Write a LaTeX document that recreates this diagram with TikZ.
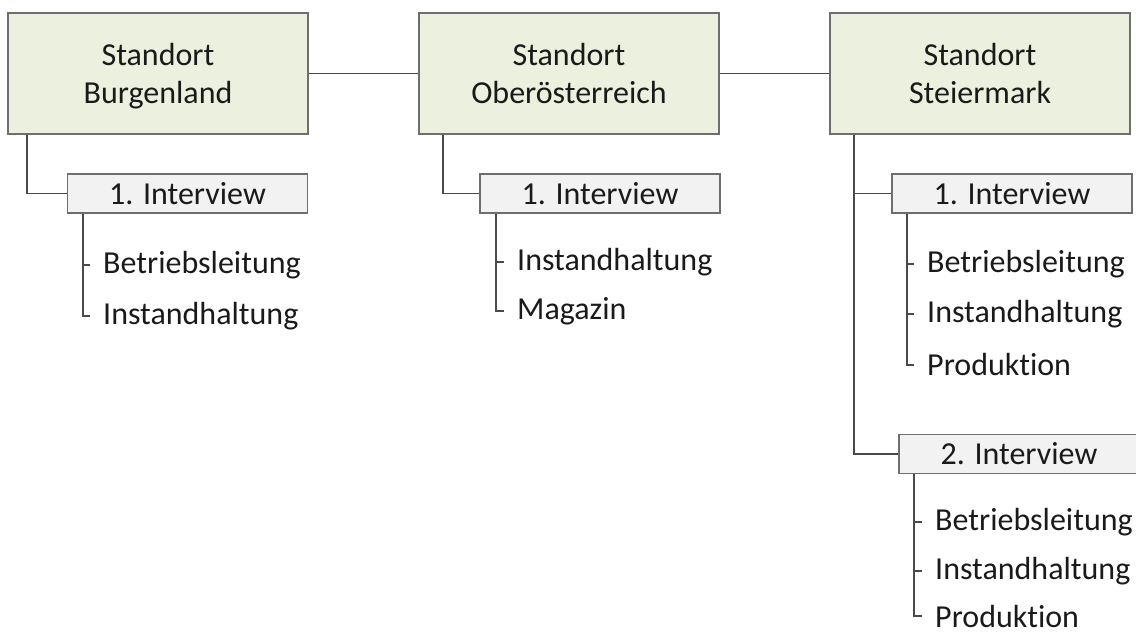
\documentclass[tikz,border=0pt]{standalone}
\usepackage{fontspec}
\setmainfont{Carlito}[Ligatures=NoCommon]
\definecolor{siteFill}{HTML}{EBF1DE}
\definecolor{boxLine}{HTML}{6E6E6E}
\definecolor{ivFill}{HTML}{F2F2F2}
\definecolor{wire}{HTML}{4A4A4A}
\definecolor{ink}{HTML}{1A1A1A}
\begin{document}
\begin{tikzpicture}[x=1pt,y=-1pt,
  site/.style={draw=boxLine,line width=1.5pt,fill=siteFill,minimum width=300pt,minimum height=121pt,
    inner sep=0pt},
  sitetext/.style={font=\fontsize{32}{38}\selectfont,text=ink,align=center,inner sep=0pt},
  interview/.style={draw=boxLine,line width=1.5pt,fill=ivFill,minimum width=240pt,minimum height=39pt,
    font=\fontsize{32}{38}\selectfont,text=ink,inner sep=0pt},
  item/.style={anchor=west,inner sep=0pt,font=\fontsize{32}{38}\selectfont,text=ink},
  wireline/.style={draw=wire,line width=1.5pt}]
\useasboundingbox (0,0) rectangle (1136,635);

% locations
\node[site] (b1) at (158,73.5) {};
\node[site] (b2) at (569,73.5) {};
\node[site] (b3) at (980,73.5) {};
\node[sitetext] (t1) at ([yshift=-3pt]b1.center) {Standort\strut\\Burgenland\strut};
\node[sitetext] (t2) at ([yshift=-3pt]b2.center) {Standort\strut\\Oberösterreich\strut};
\node[sitetext] (t3) at ([yshift=-3pt]b3.center) {Standort\strut\\Steiermark\strut};

\draw[wireline] (b1.east) -- (b2.west);
\draw[wireline] (b2.east) -- (b3.west);

% interviews
\node[interview] (i1) at (187.5,193.5) {1. Interview};
\node[interview] (i2) at (600,193.5) {1. Interview};
\node[interview] (i3) at (1012,193.5) {1. Interview};
\node[interview] (i4) at (1019,454) {2. Interview};

\draw[wireline] (b1.south -| 27,0) |- (i1.west);
\draw[wireline] (b2.south -| 443,0) |- (i2.west);
\draw[wireline] (b3.south -| 854,0) |- (i3.west);
\draw[wireline] (b3.south -| 854,0) |- (i4.west);

% Burgenland
\node[item] (a1) at (103,265) {Betriebsleitung};
\node[item] (a2) at (103,316) {Instandhaltung};
\coordinate (at1) at (i1.south -| 83,0);
\draw[wireline] (at1) |- ([xshift=-13pt]a2.west);
\draw[wireline] (at1 |- a1.west) -- ([xshift=-13pt]a1.west);

% Oberösterreich
\node[item] (c1) at (517,262) {Instandhaltung};
\node[item] (c2) at (517,311) {Magazin};
\coordinate (ct1) at (i2.south -| 496,0);
\draw[wireline] (ct1) |- ([xshift=-13pt]c2.west);
\draw[wireline] (ct1 |- c1.west) -- ([xshift=-13pt]c1.west);

% Steiermark, first interview
\node[item] (d1) at (927,264) {Betriebsleitung};
\node[item] (d2) at (927,314) {Instandhaltung};
\node[item] (d3) at (927,365) {Produktion};
\coordinate (dt1) at (i3.south -| 907,0);
\draw[wireline] (dt1) |- ([xshift=-13pt]d3.west);
\draw[wireline] (dt1 |- d1.west) -- ([xshift=-13pt]d1.west);
\draw[wireline] (dt1 |- d2.west) -- ([xshift=-13pt]d2.west);

% Steiermark, second interview
\node[item] (e1) at (935,522) {Betriebsleitung};
\node[item] (e2) at (935,571) {Instandhaltung};
\node[item] (e3) at (935,616) {Produktion};
\coordinate (et1) at (i4.south -| 914,0);
\draw[wireline] (et1) |- ([xshift=-13pt]e3.west);
\draw[wireline] (et1 |- e1.west) -- ([xshift=-13pt]e1.west);
\draw[wireline] (et1 |- e2.west) -- ([xshift=-13pt]e2.west);
\end{tikzpicture}
\end{document}
